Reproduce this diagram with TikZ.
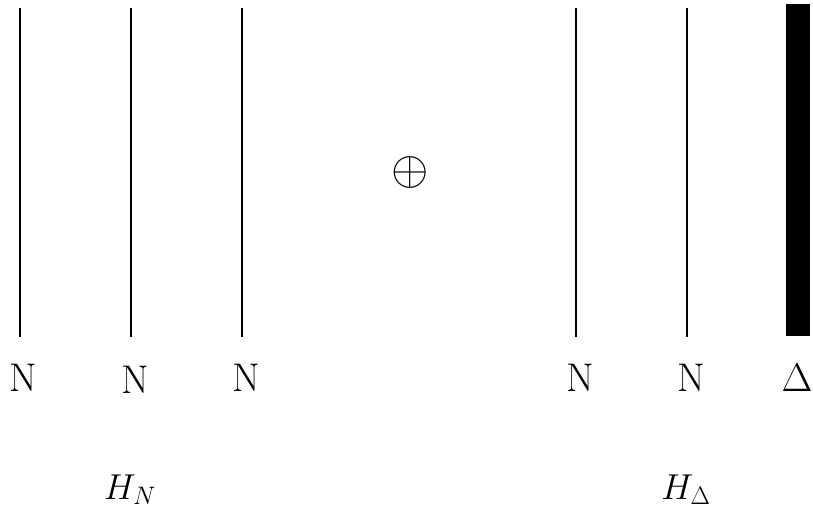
\RequirePackage{fix-cm}
\documentclass[tikz,border=0pt]{standalone}
\begin{document}
\begin{tikzpicture}[x=1pt,y=-1pt,
  strand/.style={line width=1.3pt},
  lab/.style={font=\fontsize{40}{48}\selectfont,anchor=base,inner sep=0pt},
  hlab/.style={font=\fontsize{36}{42}\selectfont,anchor=base,inner sep=0pt}]
\useasboundingbox (0,0) rectangle (813,512);
% thin strands
\foreach \x/\n in {20/a,131/b,242/c,576/d,687/e}{
  \coordinate (\n top) at (\x,8);
  \coordinate (\n bot) at (\x,337);
  \draw[strand] (\n top) -- (\n bot);
}
% thick strand
\fill (786,4) rectangle (810,336);
% labels
\node[lab] (la) at (23,391) {N};
\node[lab] (lb) at (135,393) {N};
\node[lab] (lc) at (246,391) {N};
\node[lab] (ld) at (580,391) {N};
\node[lab] (le) at (691,391) {N};
\node[lab] (lf) at (797,391) {$\Delta$};
\node[font=\fontsize{48}{52}\selectfont,inner sep=0pt] (plus) at (410,172) {$\oplus$};
\node[hlab] (hn) at (130,499) {$H_N$};
\node[hlab] (hd) at (686,499) {$H_\Delta$};
\end{tikzpicture}
\end{document}
